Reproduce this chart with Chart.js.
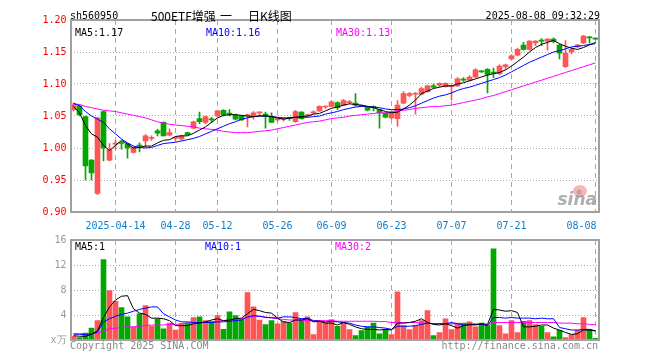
<!DOCTYPE html>
<html><head><meta charset="utf-8">
<script src="https://cdn.jsdelivr.net/npm/chart.js@4.4.1/dist/chart.umd.min.js"></script>
<style>
html,body{margin:0;padding:0;background:#fff;}
#wrap{position:relative;width:660px;height:360px;}
canvas{position:absolute;left:0;top:0;}
</style></head><body>
<div id="wrap"><canvas id="k" width="660" height="360"></canvas><canvas id="v" width="660" height="360"></canvas></div>
<script>
const dates = ['04-02','04-03','04-07','04-08','04-09','04-10','04-11','04-14','04-15','04-16','04-17','04-18','04-21','04-22','04-23','04-24','04-25','04-28','04-29','04-30',
'05-06','05-07','05-08','05-09','05-12','05-13','05-14','05-15','05-16','05-19','05-20','05-21','05-22','05-23','05-26','05-27','05-28','05-29','05-30',
'06-03','06-04','06-05','06-06','06-09','06-10','06-11','06-12','06-13','06-16','06-17','06-18','06-19','06-20','06-23','06-24','06-25','06-26','06-27','06-30',
'07-01','07-02','07-03','07-04','07-07','07-08','07-09','07-10','07-11','07-14','07-15','07-16','07-17','07-18','07-21','07-22','07-23','07-24','07-25','07-28','07-29','07-30','07-31',
'08-01','08-04','08-05','08-06','08-07','08-08'];
const tickDates = ['04-14','04-28','05-12','05-26','06-09','06-23','07-07','07-21','08-08'];
const tickLabels = ['2025-04-14','04-28','05-12','05-26','06-09','06-23','07-07','07-21','08-08'];
const priceTicks = [0.90,0.95,1.00,1.05,1.10,1.15,1.20];
const volTicks = [0,4,8,12,16];

const opens = [1.060,1.066,1.049,0.981,0.929,1.057,0.981,1.006,1.008,1.006,
0.993,1.004,1.011,1.015,1.027,1.040,1.020,1.015,1.014,1.024,
1.031,1.046,1.040,1.045,1.050,1.059,1.054,1.052,1.050,1.050,
1.049,1.055,1.053,1.049,1.044,1.045,1.047,1.041,1.056,1.050,
1.055,1.058,1.064,1.065,1.071,1.067,1.071,1.070,1.066,1.064,
1.065,1.060,1.054,1.047,1.046,1.070,1.082,1.084,1.084,1.088,
1.097,1.098,1.096,1.096,1.097,1.107,1.106,1.111,1.120,1.123,
1.118,1.116,1.127,1.139,1.145,1.161,1.154,1.164,1.168,1.167,
1.170,1.161,1.127,1.150,1.158,1.164,1.173,1.171];
const highs = [1.070,1.068,1.050,0.982,1.048,1.058,1.007,1.012,1.010,1.007,
1.002,1.008,1.021,1.019,1.029,1.041,1.030,1.018,1.020,1.025,
1.042,1.056,1.050,1.048,1.059,1.060,1.060,1.053,1.051,1.053,
1.057,1.056,1.056,1.055,1.047,1.047,1.048,1.059,1.057,1.053,
1.058,1.066,1.066,1.074,1.072,1.076,1.074,1.085,1.067,1.065,
1.066,1.061,1.055,1.056,1.074,1.088,1.087,1.087,1.095,1.098,
1.100,1.102,1.102,1.097,1.110,1.110,1.113,1.124,1.121,1.124,
1.125,1.130,1.131,1.146,1.156,1.165,1.168,1.168,1.171,1.171,
1.172,1.162,1.168,1.156,1.162,1.176,1.174,1.172];
const lows = [1.058,1.050,0.950,0.950,0.927,0.980,0.980,0.998,0.998,0.984,
0.992,0.994,1.001,1.012,1.019,1.019,1.019,1.012,1.012,1.020,
1.030,1.038,1.038,1.040,1.049,1.050,1.050,1.044,1.043,1.033,
1.045,1.050,1.031,1.040,1.042,1.042,1.043,1.040,1.045,1.048,
1.053,1.057,1.062,1.064,1.060,1.066,1.069,1.065,1.065,1.058,
1.058,1.031,1.047,1.045,1.034,1.069,1.080,1.053,1.083,1.087,
1.094,1.096,1.095,1.075,1.096,1.104,1.105,1.110,1.118,1.086,
1.110,1.114,1.123,1.138,1.144,1.153,1.153,1.160,1.160,1.153,
1.164,1.139,1.126,1.147,1.157,1.163,1.164,1.170];
const closes = [1.068,1.052,0.972,0.961,1.047,1.000,0.997,1.007,1.007,1.000,
1.001,1.003,1.019,1.016,1.023,1.019,1.024,1.016,1.019,1.021,
1.041,1.041,1.049,1.044,1.058,1.052,1.053,1.045,1.044,1.052,
1.055,1.056,1.050,1.040,1.046,1.046,1.046,1.057,1.046,1.052,
1.056,1.065,1.065,1.072,1.063,1.074,1.072,1.067,1.065,1.059,
1.063,1.055,1.048,1.054,1.067,1.085,1.085,1.085,1.093,1.097,
1.095,1.101,1.101,1.097,1.108,1.106,1.111,1.122,1.119,1.115,
1.117,1.128,1.130,1.144,1.154,1.154,1.167,1.167,1.167,1.170,
1.167,1.148,1.148,1.154,1.161,1.175,1.172,1.170];
const ma5 = [1.065,1.055,1.035,1.022,1.017,1.004,0.996,1.004,1.012,1.006,
1.000,1.001,1.003,1.003,1.008,1.012,1.013,1.018,1.019,1.019,
1.023,1.028,1.033,1.040,1.047,1.051,1.052,1.052,1.051,1.050,
1.049,1.050,1.050,1.049,1.047,1.045,1.047,1.048,1.049,1.050,
1.053,1.054,1.058,1.062,1.064,1.067,1.069,1.068,1.067,1.065,
1.063,1.060,1.057,1.055,1.056,1.061,1.067,1.075,1.085,1.089,
1.093,1.095,1.097,1.097,1.100,1.102,1.105,1.108,1.111,1.114,
1.116,1.118,1.122,1.128,1.135,1.142,1.150,1.157,1.162,1.165,
1.168,1.163,1.159,1.156,1.154,1.157,1.161,1.165];
const ma10 = [1.070,1.066,1.057,1.050,1.045,1.040,1.030,1.022,1.014,1.008,
1.003,1.001,1.000,1.001,1.004,1.007,1.008,1.009,1.011,1.013,
1.015,1.018,1.022,1.026,1.030,1.034,1.038,1.041,1.045,1.047,
1.049,1.050,1.050,1.049,1.048,1.047,1.047,1.048,1.048,1.048,
1.049,1.050,1.053,1.055,1.057,1.060,1.062,1.064,1.065,1.065,
1.064,1.063,1.061,1.060,1.060,1.061,1.063,1.066,1.070,1.074,
1.078,1.081,1.083,1.086,1.090,1.093,1.095,1.098,1.101,1.104,
1.107,1.110,1.114,1.119,1.124,1.129,1.134,1.138,1.142,1.146,
1.150,1.152,1.155,1.158,1.159,1.160,1.162,1.163];
const ma30 = [1.069,1.068,1.065,1.063,1.061,1.059,1.058,1.057,1.055,1.053,
1.051,1.049,1.047,1.044,1.041,1.039,1.037,1.036,1.035,1.034,
1.033,1.031,1.030,1.029,1.028,1.026,1.025,1.024,1.024,1.024,
1.025,1.026,1.027,1.028,1.030,1.032,1.034,1.036,1.038,1.040,
1.041,1.042,1.044,1.046,1.047,1.048,1.050,1.051,1.052,1.053,
1.054,1.055,1.055,1.057,1.058,1.059,1.060,1.062,1.063,1.064,
1.065,1.065,1.066,1.067,1.069,1.071,1.073,1.075,1.077,1.080,
1.082,1.085,1.088,1.091,1.094,1.097,1.100,1.103,1.106,1.109,
1.112,1.115,1.118,1.121,1.124,1.127,1.130,1.133];
const volumes = [0.6,0.4,1.1,1.9,3.1,12.85,7.9,6.2,5.2,3.7,
2.1,4.2,5.5,2.2,3.4,1.8,2.7,1.6,2.6,2.7,
3.6,3.7,3.1,2.9,3.9,1.7,4.5,3.9,3.25,7.6,
5.3,3.2,2.45,3.1,2.6,3.0,2.7,4.4,3.25,3.7,
0.85,3.1,2.8,3.25,2.2,2.8,1.65,0.7,1.5,2.1,
2.7,1.0,1.65,0.85,7.7,2.3,1.65,2.3,3.1,4.7,
0.7,1.2,3.4,1.65,2.7,2.7,2.9,2.1,2.7,2.3,
14.6,2.3,1.0,3.1,1.2,3.0,3.1,2.45,2.2,1.2,
0.5,1.55,0.4,0.85,1.55,3.6,1.65,0.25];
const vma5 = [0.7,0.6,0.6,0.9,1.5,3.6,5.3,6.4,7.0,7.1,
5.0,4.3,4.1,3.5,3.5,3.4,3.1,2.3,2.3,2.3,
2.6,2.7,2.9,3.2,3.4,3.1,3.2,3.4,3.5,4.2,
4.9,4.7,4.4,4.3,3.5,2.9,2.8,3.2,3.2,3.4,
2.9,3.0,2.7,2.7,2.4,2.8,2.5,2.1,1.8,1.7,
1.7,1.6,1.7,1.6,2.7,2.7,2.8,3.0,3.4,2.8,
2.5,2.4,2.6,2.3,1.9,2.3,2.5,2.4,2.6,2.5,
4.9,4.8,4.6,4.7,4.4,2.1,2.1,2.2,2.4,2.4,
1.9,1.6,1.2,0.9,1.0,1.6,1.6,1.5];
const vma10 = [0.95,0.9,0.9,0.95,1.3,2.9,3.4,3.8,4.1,4.3,
4.6,4.9,5.1,5.3,5.3,4.2,3.7,3.2,2.9,2.9,
2.8,2.8,2.8,2.8,2.9,2.9,3.0,3.1,3.2,3.7,
3.9,3.8,3.6,3.6,3.5,3.7,3.7,3.6,3.4,3.5,
3.1,3.0,2.9,3.0,2.9,2.8,2.7,2.4,2.2,2.1,
2.1,2.0,1.9,1.7,2.2,2.2,2.2,2.3,2.5,2.7,
2.6,2.6,2.6,2.8,2.6,2.4,2.4,2.5,2.5,2.3,
3.6,3.6,3.5,3.6,3.5,3.5,3.5,3.4,3.5,3.4,
3.4,2.0,1.8,1.6,1.6,1.7,1.7,1.4];
const vma30 = [1.0,1.0,1.0,1.0,1.1,1.4,1.8,1.9,2.0,2.1,
2.1,2.2,2.3,2.4,2.4,2.4,2.5,2.5,2.6,2.7,
2.8,2.8,2.9,2.9,3.0,3.1,3.2,3.3,3.4,3.6,
3.8,3.8,3.7,3.5,3.4,3.3,3.2,3.2,3.1,3.1,
3.1,3.1,3.1,3.1,3.0,3.0,3.0,3.0,3.0,3.0,
3.0,2.95,2.95,2.8,2.8,2.8,2.8,2.8,2.7,2.7,
2.6,2.6,2.6,2.6,2.6,2.6,2.6,2.6,2.5,2.4,
2.8,2.8,2.8,2.8,2.8,2.8,2.8,2.8,2.8,2.8,
2.8,2.7,2.7,2.7,2.6,2.6,2.5,2.45];

const MONO = '"DejaVu Sans Mono", monospace';
const CJK = '"Noto Sans CJK SC", sans-serif';
const RED = '#ff5555', GREEN = '#00a800';
const candleColors = closes.map((c,i) => c >= opens[i] ? RED : GREEN);
const tickIdx = tickDates.map(d => dates.indexOf(d));

function lineDs(data, color) {
  return {type:'line', data, borderColor:color, borderWidth:1, pointRadius:0, tension:0, fill:false, order:0};
}
function xScale(h) {
  return {
    offset:true,
    grid:{offset:false, drawTicks:false, lineWidth:1,
      color: ctx => tickIdx.includes(ctx.index) ? '#a8a8a8' : 'rgba(0,0,0,0)'},
    border:{display:false, dash:[5,4]},
    ticks:{display:false, autoSkip:false},
    afterFit: s => { s.height = h; }
  };
}
function frame(chart) {
  const ca = chart.chartArea, ctx = chart.ctx;
  ctx.save();
  ctx.strokeStyle = '#a0a0a0'; ctx.lineWidth = 2;
  ctx.strokeRect(Math.round(ca.left), Math.round(ca.top), Math.round(ca.right) - Math.round(ca.left), Math.round(ca.bottom) - Math.round(ca.top));
  ctx.restore();
}
function txt(ctx, s, x, y, color, font, align) {
  ctx.fillStyle = color; ctx.font = font; ctx.textAlign = align || 'left'; ctx.textBaseline = 'middle';
  ctx.fillText(s, x, y);
}

const kDecor = {
  id:'kDecor',
  afterDraw(chart) {
    frame(chart);
    const ctx = chart.ctx;
    ctx.save();
    const f10 = '10px ' + MONO;
    txt(ctx, 'sh560950', 70, 16.5, '#000', f10);
    txt(ctx, '500ETF增强', 151, 16, '#000', '12px ' + CJK);
    txt(ctx, '一', 220, 16, '#000', '12px ' + CJK);
    txt(ctx, '日K线图', 248, 16, '#000', '12px ' + CJK);
    txt(ctx, '2025-08-08 09:32:29', 600, 16.5, '#000', f10, 'right');
    txt(ctx, 'MA5:' + ma5[ma5.length-1].toFixed(2), 75, 33.5, '#000', f10);
    txt(ctx, 'MA10:' + ma10[ma10.length-1].toFixed(2), 206, 33.5, '#0000ff', f10);
    txt(ctx, 'MA30:' + ma30[ma30.length-1].toFixed(2), 336, 33.5, '#ff00ff', f10);
    const xs = chart.scales.x;
    tickIdx.forEach((idx, k) => {
      const px = xs.getPixelForValue(idx);
      const last = k === tickIdx.length - 1;
      txt(ctx, tickLabels[k], last ? px + 1 : px, 226, '#0a7fcf', f10, last ? 'right' : 'center');
    });
    ctx.fillStyle = 'rgba(240,120,120,0.55)';
    ctx.beginPath(); ctx.ellipse(580, 191, 7, 6, 0, 0, Math.PI*2); ctx.fill();
    ctx.fillStyle = 'rgba(150,150,150,0.6)';
    ctx.beginPath(); ctx.arc(579, 192, 2.5, 0, Math.PI*2); ctx.fill();
    txt(ctx, 'sina', 597, 201, 'rgba(140,140,140,0.7)', 'italic bold 17px "DejaVu Sans", sans-serif', 'right');
    ctx.restore();
  }
};
const vDecor = {
  id:'vDecor',
  afterDraw(chart) {
    frame(chart);
    const ctx = chart.ctx;
    ctx.save();
    const f10 = '10px ' + MONO;
    txt(ctx, 'MA5:1', 75, 247, '#000', f10);
    txt(ctx, 'MA10:1', 205, 247, '#0000ff', f10);
    txt(ctx, 'MA30:2', 335, 247, '#ff00ff', f10);
    txt(ctx, 'Copyright 2025 SINA.COM', 70, 346, '#888', f10);
    txt(ctx, 'http://finance.sina.com.cn', 598, 346, '#888', f10, 'right');
    ctx.restore();
  }
};

Chart.defaults.animation = false;
new Chart(document.getElementById('k'), {
  type:'bar',
  data:{labels:dates, datasets:[
    lineDs(ma5, '#000000'), lineDs(ma10, '#0000ff'), lineDs(ma30, '#ff00ff'),
    {type:'bar', data: lows.map((l,i) => [l, highs[i]]), backgroundColor:candleColors, barThickness:1, grouped:false, minBarLength:1, order:2},
    {type:'bar', data: opens.map((o,i) => [o, closes[i]]), backgroundColor:candleColors, barThickness:5, grouped:false, minBarLength:1, order:1}
  ]},
  options:{
    responsive:false, devicePixelRatio:1, events:[],
    layout:{padding:{left:0.5, right:61.5, top:20, bottom:0}},
    plugins:{legend:{display:false}, tooltip:{enabled:false}},
    scales:{
      x: xScale(148),
      y:{min:priceTicks[0], max:priceTicks[priceTicks.length-1],
        afterBuildTicks: s => { s.ticks = priceTicks.map(v => ({value:v})); },
        ticks:{color:'#ff0000', font:{family:MONO, size:10}, padding:4, callback: v => Number(v).toFixed(2)},
        grid:{drawTicks:false, color:'#a8a8a8', lineWidth:1},
        border:{display:false, dash:[1,2]},
        afterFit: s => { s.width = 70; }}
    }
  },
  plugins:[kDecor]
});
new Chart(document.getElementById('v'), {
  type:'bar',
  data:{labels:dates, datasets:[
    lineDs(vma5, '#000000'), lineDs(vma10, '#0000ff'), lineDs(vma30, '#ff00ff'),
    {type:'bar', data:volumes, backgroundColor:candleColors, barThickness:5, order:1}
  ]},
  options:{
    responsive:false, devicePixelRatio:1, events:[],
    layout:{padding:{left:0.5, right:61.5, top:240, bottom:0}},
    plugins:{legend:{display:false}, tooltip:{enabled:false}},
    scales:{
      x: xScale(20),
      y:{min:volTicks[0], max:volTicks[volTicks.length-1],
        afterBuildTicks: s => { s.ticks = volTicks.map(v => ({value:v})); },
        ticks:{color:'#999', font:{family:MONO, size:10}, padding:4, callback: v => v === 0 ? 'x万' : String(v)},
        grid:{drawTicks:false, color:'#a8a8a8', lineWidth:1},
        border:{display:false, dash:[1,2]},
        afterFit: s => { s.width = 70; }}
    }
  },
  plugins:[vDecor]
});
</script>
</body></html>
